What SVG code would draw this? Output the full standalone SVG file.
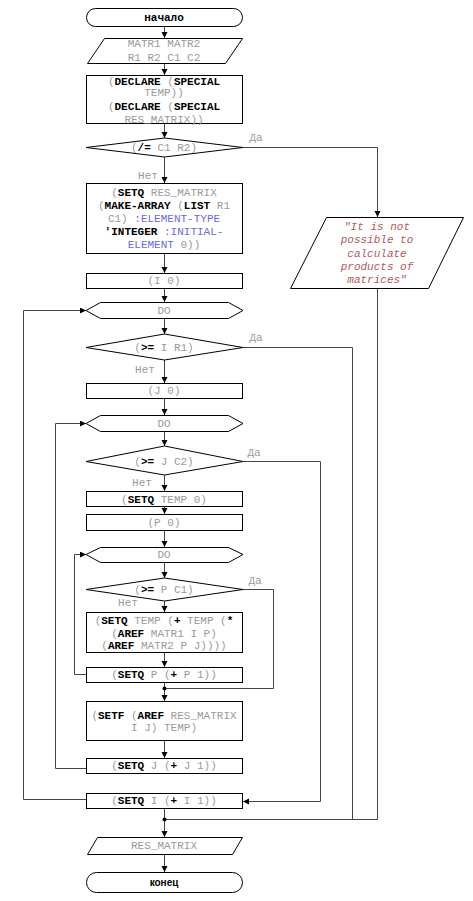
<svg xmlns="http://www.w3.org/2000/svg" width="473" height="901" viewBox="0 0 473 901">
<style>
.s{fill:#fff;stroke:#000;stroke-width:1}
.c{fill:none;stroke:#444;stroke-width:1}
text{font-family:"Liberation Mono","Courier New",monospace;font-size:11px;fill:#9a9a9a;text-anchor:middle}
.b{font-weight:bold;fill:#000}
.k{fill:#6a6ae0}
.r{fill:#b05a5a;font-style:italic}
.l{text-anchor:start}
.t{font-weight:bold;fill:#000}
</style>
<defs>
<marker id="a" markerWidth="8" markerHeight="8" refX="6" refY="3" orient="auto" markerUnits="userSpaceOnUse"><path d="M0,0 L6,3 L0,6 Z" fill="#000"/></marker>
</defs>
<g id="connectors">
<path class="c" d="M164.5,26V38" marker-end="url(#a)"/>
<path class="c" d="M164.5,63V75" marker-end="url(#a)"/>
<path class="c" d="M164.5,123V138" marker-end="url(#a)"/>
<path class="c" d="M164.5,156V183" marker-end="url(#a)"/>
<path class="c" d="M243,147.5H377.5V217" marker-end="url(#a)"/>
<path class="c" d="M164.5,253V273" marker-end="url(#a)"/>
<path class="c" d="M164.5,288V302" marker-end="url(#a)"/>
<path class="c" d="M164.5,318V334" marker-end="url(#a)"/>
<path class="c" d="M164.5,360V383" marker-end="url(#a)"/>
<path class="c" d="M164.5,398V415" marker-end="url(#a)"/>
<path class="c" d="M164.5,431V446" marker-end="url(#a)"/>
<path class="c" d="M164.5,475V491" marker-end="url(#a)"/>
<path class="c" d="M164.5,507V514" marker-end="url(#a)"/>
<path class="c" d="M164.5,531V547" marker-end="url(#a)"/>
<path class="c" d="M164.5,562V578" marker-end="url(#a)"/>
<path class="c" d="M164.5,601V612" marker-end="url(#a)"/>
<path class="c" d="M164.5,652V667" marker-end="url(#a)"/>
<path class="c" d="M164.5,682V701" marker-end="url(#a)"/>
<path class="c" d="M243,589.5H273.5V688.5H164.5"/>
<path class="c" d="M86,674.5H74.5V554.5H86" marker-end="url(#a)"/>
<path class="c" d="M164.5,740V758" marker-end="url(#a)"/>
<path class="c" d="M86,768.5H55.5V423.5H86" marker-end="url(#a)"/>
<path class="c" d="M243,461.5H320.5V801.5H243" marker-end="url(#a)"/>
<path class="c" d="M86,799.5H23.5V310.5H86" marker-end="url(#a)"/>
<path class="c" d="M164.5,808V837" marker-end="url(#a)"/>
<path class="c" d="M243,347.5H352.5V819.5H164.5"/>
<path class="c" d="M377.5,288V819.5H352.5"/>
<path class="c" d="M164.5,854V872" marker-end="url(#a)"/>
<circle cx="164.5" cy="688.5" r="2" fill="#000"/>
<circle cx="164.5" cy="819.5" r="2" fill="#000"/>
<text x="256" y="141">Да</text>
<text x="148" y="179">Нет</text>
<text x="256" y="341">Да</text>
<text x="145" y="373">Нет</text>
<text x="254" y="456">Да</text>
<text x="142" y="486">Нет</text>
<text x="255" y="584">Да</text>
<text x="128" y="606">Нет</text>
</g>
<g id="start"><rect class="s" x="86.5" y="8.5" width="156" height="18" rx="9"/><text class="t" x="164" y="21">начало</text></g>
<g id="input"><polygon class="s" points="104.5,38.5 242.5,38.5 225.5,63.5 87.5,63.5"/><text x="164" y="47">MATR1 MATR2</text><text x="164" y="61">R1 R2 C1 C2</text></g>
<g id="declare"><rect class="s" x="86.5" y="75.5" width="156" height="48"/>
<text x="164" y="85">(<tspan class="b">DECLARE</tspan> (<tspan class="b">SPECIAL</tspan></text>
<text x="164" y="96">TEMP))</text>
<text x="164" y="110">(<tspan class="b">DECLARE</tspan> (<tspan class="b">SPECIAL</tspan></text>
<text x="164" y="123">RES_MATRIX))</text></g>
<g id="cond1"><polygon class="s" points="86,147.5 164.5,138 243,147.5 164.5,157"/><text x="164" y="151">(<tspan class="b">/=</tspan> C1 R2)</text></g>
<g id="msg"><polygon class="s" points="326.5,217.5 463.5,217.5 428.5,288.5 290.5,288.5"/>
<text class="r" x="377" y="230">"It is not</text>
<text class="r" x="377" y="243">possible to</text>
<text class="r" x="377" y="257">calculate</text>
<text class="r" x="377" y="270">products of</text>
<text class="r" x="377" y="283">matrices"</text></g>
<g id="setres"><rect class="s" x="86.5" y="183.5" width="156" height="70"/>
<text x="164" y="196">(<tspan class="b">SETQ</tspan> RES_MATRIX</text>
<text x="164" y="209">(<tspan class="b">MAKE-ARRAY</tspan> (<tspan class="b">LIST</tspan> R1</text>
<text x="164" y="222">C1) <tspan class="k">:ELEMENT-TYPE</tspan></text>
<text x="164" y="235"><tspan class="b">'INTEGER</tspan> <tspan class="k">:INITIAL-</tspan></text>
<text x="164" y="248"><tspan class="k">ELEMENT</tspan> 0))</text></g>
<g id="i0"><rect class="s" x="86.5" y="273.5" width="156" height="15"/><text x="164" y="284">(I 0)</text></g>
<g id="do1"><polygon class="s" points="86,310.5 100.5,302.5 228.5,302.5 243,310.5 228.5,318.5 100.5,318.5"/><text x="164" y="314">DO</text></g>
<g id="cond2"><polygon class="s" points="86,347.5 164.5,334 243,347.5 164.5,360"/><text x="164" y="351">(<tspan class="b">&gt;=</tspan> I R1)</text></g>
<g id="j0"><rect class="s" x="86.5" y="383.5" width="156" height="15"/><text x="164" y="394">(J 0)</text></g>
<g id="do2"><polygon class="s" points="86,423.5 100.5,415.5 228.5,415.5 243,423.5 228.5,431.5 100.5,431.5"/><text x="164" y="427">DO</text></g>
<g id="cond3"><polygon class="s" points="86,461.5 164.5,446 243,461.5 164.5,475"/><text x="164" y="465">(<tspan class="b">&gt;=</tspan> J C2)</text></g>
<g id="temp0"><rect class="s" x="86.5" y="491.5" width="156" height="15"/><text x="164" y="503">(<tspan class="b">SETQ</tspan> TEMP 0)</text></g>
<g id="p0"><rect class="s" x="86.5" y="514.5" width="156" height="16"/><text x="164" y="526">(P 0)</text></g>
<g id="do3"><polygon class="s" points="86,554.5 100.5,547.5 228.5,547.5 243,554.5 228.5,562.5 100.5,562.5"/><text x="164" y="558">DO</text></g>
<g id="cond4"><polygon class="s" points="86,589.5 164.5,578 243,589.5 164.5,601"/><text x="164" y="593">(<tspan class="b">&gt;=</tspan> P C1)</text></g>
<g id="acc"><rect class="s" x="86.5" y="612.5" width="156" height="40"/>
<text x="164" y="624">(<tspan class="b">SETQ</tspan> TEMP (<tspan class="b">+</tspan> TEMP (<tspan class="b">*</tspan></text>
<text x="164" y="637">(<tspan class="b">AREF</tspan> MATR1 I P)</text>
<text x="164" y="649">(<tspan class="b">AREF</tspan> MATR2 P J))))</text></g>
<g id="incp"><rect class="s" x="86.5" y="667.5" width="156" height="15"/><text x="164" y="678">(<tspan class="b">SETQ</tspan> P (<tspan class="b">+</tspan> P 1))</text></g>
<g id="setf"><rect class="s" x="86.5" y="701.5" width="156" height="39"/>
<text x="164" y="719">(<tspan class="b">SETF</tspan> (<tspan class="b">AREF</tspan> RES_MATRIX</text>
<text x="164" y="731">I J) TEMP)</text></g>
<g id="incj"><rect class="s" x="86.5" y="758.5" width="156" height="15"/><text x="164" y="769">(<tspan class="b">SETQ</tspan> J (<tspan class="b">+</tspan> J 1))</text></g>
<g id="inci"><rect class="s" x="86.5" y="793.5" width="156" height="15"/><text x="164" y="804">(<tspan class="b">SETQ</tspan> I (<tspan class="b">+</tspan> I 1))</text></g>
<g id="output"><polygon class="s" points="97.5,837.5 242.5,837.5 232.5,854.5 87.5,854.5"/><text x="164" y="849">RES_MATRIX</text></g>
<g id="end"><rect class="s" x="86.5" y="872.5" width="156" height="20" rx="10"/><text class="t" x="164" y="886" style="font-family:'Liberation Sans',Arial,sans-serif;font-size:10px">конец</text></g>
</svg>
